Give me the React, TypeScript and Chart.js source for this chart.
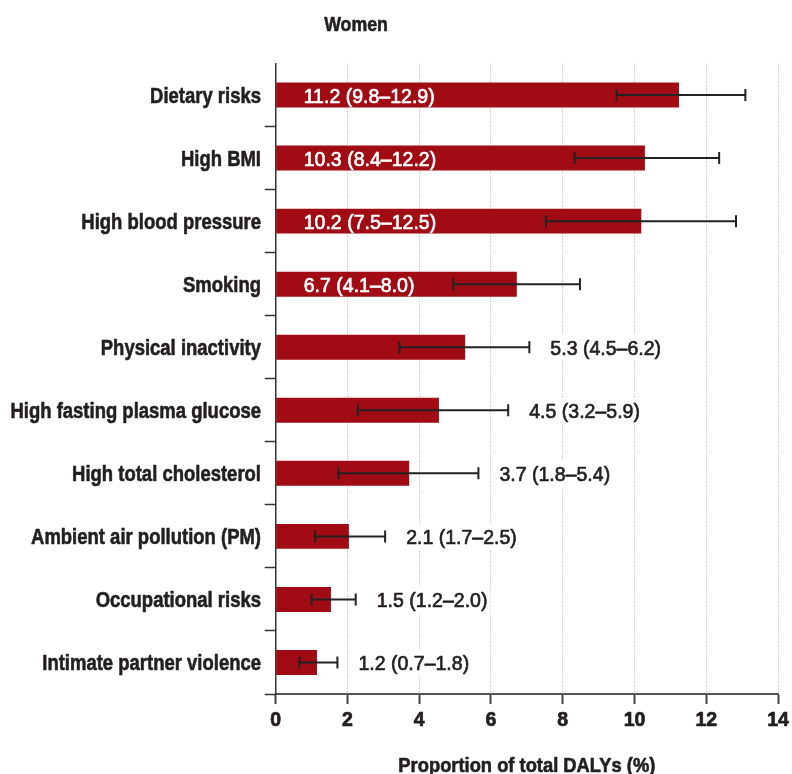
import React, { useEffect, useRef } from "react";
import { Chart, registerables } from "chart.js";

Chart.register(...registerables);

const categories = [
  "Dietary risks",
  "High BMI",
  "High blood pressure",
  "Smoking",
  "Physical inactivity",
  "High fasting plasma glucose",
  "High total cholesterol",
  "Ambient air pollution (PM)",
  "Occupational risks",
  "Intimate partner violence",
];
const values = [11.24, 10.29, 10.19, 6.72, 5.28, 4.55, 3.72, 2.04, 1.54, 1.15];
const errLow = [9.5, 8.33, 7.53, 4.95, 3.45, 2.29, 1.75, 1.1, 1.0, 0.66];
const errHigh = [13.09, 12.36, 12.83, 8.48, 7.07, 6.48, 5.65, 3.05, 2.23, 1.72];
const valueLabels = [
  "11.2 (9.8–12.9)",
  "10.3 (8.4–12.2)",
  "10.2 (7.5–12.5)",
  "6.7 (4.1–8.0)",
  "5.3 (4.5–6.2)",
  "4.5 (3.2–5.9)",
  "3.7 (1.8–5.4)",
  "2.1 (1.7–2.5)",
  "1.5 (1.2–2.0)",
  "1.2 (0.7–1.8)",
];
const xTicks = [0, 2, 4, 6, 8, 10, 12, 14];
const chartTitle = "Women";
const xTitle = "Proportion of total DALYs (%)";

const FONT = '"Liberation Sans", Arial, sans-serif';
const TEXT = "#231f20";
const BAR = "#a00b14";

function drawText(
  ctx: CanvasRenderingContext2D,
  text: string,
  x: number,
  y: number,
  font: string,
  align: CanvasTextAlign,
  sx: number,
  color: string,
  stroke = 0
) {
  ctx.save();
  ctx.translate(x, y);
  ctx.scale(sx, 1);
  ctx.font = font;
  ctx.textAlign = align;
  ctx.textBaseline = "alphabetic";
  ctx.fillStyle = color;
  ctx.fillText(text, 0, 0);
  if (stroke > 0) {
    ctx.strokeStyle = color;
    ctx.lineWidth = stroke;
    ctx.lineJoin = "round";
    ctx.strokeText(text, 0, 0);
  }
  ctx.restore();
}

export default function App() {
  const ref = useRef<HTMLCanvasElement | null>(null);

  useEffect(() => {
    if (!ref.current) return;

    const overlay = {
      id: "overlay",
      afterDatasetsDraw(chart: any) {
        const ctx: CanvasRenderingContext2D = chart.ctx;
        const xs = chart.scales.x;
        const ys = chart.scales.y;
        ctx.save();
        // error bars
        ctx.strokeStyle = "#222222";
        ctx.lineWidth = 2;
        for (let i = 0; i < categories.length; i++) {
          const y = ys.getPixelForValue(i);
          const xl = xs.getPixelForValue(errLow[i]);
          const xh = xs.getPixelForValue(errHigh[i]);
          ctx.beginPath();
          ctx.moveTo(xl, y);
          ctx.lineTo(xh, y);
          ctx.moveTo(xl, y - 6);
          ctx.lineTo(xl, y + 6);
          ctx.moveTo(xh, y - 6);
          ctx.lineTo(xh, y + 6);
          ctx.stroke();
        }
        ctx.restore();
        // value labels
        const vFont = `21px ${FONT}`;
        const vScale = 0.93;
        const x0 = xs.getPixelForValue(0);
        for (let i = 0; i < categories.length; i++) {
          const y = ys.getPixelForValue(i);
          const txt = valueLabels[i];
          if (values[i] >= 6) {
            drawText(ctx, txt, x0 + 28, y + 7.5, vFont, "left", vScale, "#ffffff", 0.7);
          } else {
            const x = xs.getPixelForValue(errHigh[i]) + 21;
            ctx.save();
            ctx.font = vFont;
            const w = ctx.measureText(txt).width * vScale;
            ctx.fillStyle = "#ffffff";
            ctx.fillRect(x - 3, y - 13, w + 6, 27);
            ctx.restore();
            drawText(ctx, txt, x, y + 7.5, vFont, "left", vScale, TEXT, 0.7);
          }
        }
      },
      afterDraw(chart: any) {
        const ctx: CanvasRenderingContext2D = chart.ctx;
        const area = chart.chartArea;
        const xs = chart.scales.x;
        const ys = chart.scales.y;
        // category labels
        for (let i = 0; i < categories.length; i++) {
          const y = ys.getPixelForValue(i);
          drawText(ctx, categories[i], area.left - 14.7, y + 7.9, `bold 22px ${FONT}`, "right", 0.84, TEXT, 0.6);
        }
        // x tick labels
        for (const v of xTicks) {
          drawText(ctx, String(v), xs.getPixelForValue(v), 726, `bold 19.5px ${FONT}`, "center", 1, TEXT, 0.7);
        }
        drawText(ctx, chartTitle, 356, 30.7, `bold 20.5px ${FONT}`, "center", 0.865, TEXT, 0.6);
        drawText(ctx, xTitle, (area.left + area.right) / 2, 771.7, `bold 19.5px ${FONT}`, "center", 0.94, TEXT, 0.6);
      },
    };

    const chart = new Chart(ref.current, {
      type: "bar",
      data: {
        labels: categories,
        datasets: [
          {
            data: values,
            backgroundColor: BAR,
            borderWidth: 0,
            categoryPercentage: 1,
            barPercentage: 0.395,
          },
        ],
      },
      options: {
        indexAxis: "y",
        animation: false,
        responsive: true,
        maintainAspectRatio: false,
        layout: { padding: { top: 63.5, right: 14, left: 0, bottom: 0 } },
        plugins: {
          legend: { display: false },
          tooltip: { enabled: false },
          title: { display: false },
        },
        scales: {
          x: {
            type: "linear",
            min: 0,
            max: 14,
            afterBuildTicks: (s: any) => {
              s.ticks = xTicks.map((v) => ({ value: v }));
            },
            afterFit: (s: any) => {
              s.height = 80;
              s.paddingLeft = 0;
              s.paddingRight = 0;
            },
            border: { display: true, color: "#555555", width: 2, dash: [1, 1.5] },
            grid: {
              display: true,
              drawOnChartArea: true,
              color: "#b8b8b8",
              lineWidth: 1,
              drawTicks: true,
              tickLength: 10,
              tickColor: "#444444",
              tickWidth: 2,
              tickBorderDash: [],
            },
            ticks: { display: false },
          },
          y: {
            type: "category",
            afterFit: (s: any) => {
              s.width = 275.7;
              s.paddingTop = 0;
              s.paddingBottom = 0;
            },
            border: { display: true, color: "#333333", width: 1.5 },
            grid: {
              display: true,
              offset: true,
              drawOnChartArea: false,
              drawTicks: true,
              tickLength: 11,
              tickWidth: 1.5,
              tickColor: (c: any) => (c.index === 0 ? "rgba(0,0,0,0)" : "#333333"),
            },
            ticks: { display: false },
          },
        },
      },
      plugins: [overlay],
    });

    return () => chart.destroy();
  }, []);

  return (
    <div style={{ position: "fixed", left: 0, top: 0, width: 792, height: 774, background: "#fff" }}>
      <canvas ref={ref} />
    </div>
  );
}
